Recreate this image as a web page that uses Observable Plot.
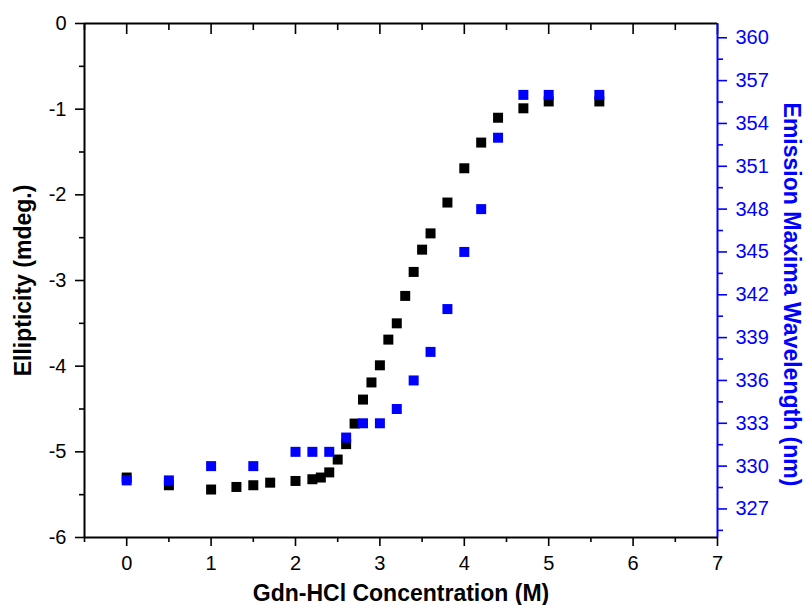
<!DOCTYPE html>
<html><head><meta charset="utf-8">
<script src="https://cdn.jsdelivr.net/npm/d3@7"></script>
<script src="https://cdn.jsdelivr.net/npm/@observablehq/plot@0.6"></script>
<style>html,body{margin:0;padding:0;background:#fff;}</style>
</head><body><div id="chart"></div>
<script>
// Circular dichroism (ellipticity, left axis)
const concCD = [0,0.5,1,1.3,1.5,1.7,2,2.2,2.3,2.4,2.5,2.6,2.7,2.8,2.9,3.0,3.1,3.2,3.3,3.4,3.5,3.6,3.8,4.0,4.2,4.4,4.7,5.0,5.6];
const ellipticity = [-5.30,-5.39,-5.44,-5.41,-5.39,-5.36,-5.34,-5.32,-5.30,-5.24,-5.09,-4.91,-4.67,-4.39,-4.19,-3.99,-3.69,-3.50,-3.18,-2.90,-2.64,-2.45,-2.09,-1.69,-1.39,-1.10,-0.99,-0.91,-0.91];
// Fluorescence emission maxima (right axis)
const concFl = [0,0.5,1,1.5,2,2.2,2.4,2.6,2.8,3.0,3.2,3.4,3.6,3.8,4.0,4.2,4.4,4.7,5.0,5.6];
const emissionMax = [329,329,330,330,331,331,331,332,333,333,334,336,338,341,345,348,353,356,356,356];
// Ticks
const xMajor = [0,1,2,3,4,5,6,7];
const xMinor = [-0.5,0.5,1.5,2.5,3.5,4.5,5.5,6.5];
const yMajor = [0,-1,-2,-3,-4,-5,-6];
const yMinor = [-0.5,-1.5,-2.5,-3.5,-4.5,-5.5];
const emMajor = [327,330,333,336,339,342,345,348,351,354,357,360];
const emMinor = [325.5,328.5,331.5,334.5,337.5,340.5,343.5,346.5,349.5,352.5,355.5,358.5];
const emDomain = [325, 361];
const yDomain = [-6, 0];
const xDomain = [-0.5, 7];
const xTitle = "Gdn-HCl Concentration (M)";
const yTitle = "Ellipticity (mdeg.)";
const y2Title = "Emission Maxima Wavelength (nm)";

const BLUE = "#0000ff";
const k = (yDomain[1]-yDomain[0])/(emDomain[1]-emDomain[0]);
const toY = v => yDomain[0] + (v - emDomain[0]) * k;
const fromY = y => Math.round(emDomain[0] + (y - yDomain[0]) / k);

const cdData = concCD.map((c,i)=>({c, v: ellipticity[i]}));
const flData = concFl.map((c,i)=>({c, v: toY(emissionMax[i])}));
const SW = 1.6;

const chart = Plot.plot({
  width: 804, height: 605,
  marginLeft: 84, marginRight: 87, marginTop: 23, marginBottom: 68,
  x: {domain: xDomain, label: null},
  y: {domain: yDomain, label: null},
  style: {fontFamily: "Arial, 'Liberation Sans', sans-serif", fontSize: "20px", background: "white", color: "black"},
  marks: [
    Plot.axisX({anchor: "bottom", ticks: xMajor, tickSize: 9, tickPadding: 9, strokeWidth: SW, tickFormat: d => String(d), label: null}),
    Plot.axisX({anchor: "bottom", ticks: xMinor, tickSize: 5, strokeWidth: SW, fill: "none", label: null}),
    Plot.axisX({anchor: "top", ticks: xMajor, tickSize: -10, strokeWidth: SW, fill: "none", label: null}),
    Plot.axisX({anchor: "top", ticks: xMinor, tickSize: -6, strokeWidth: SW, fill: "none", label: null}),
    Plot.axisY({anchor: "left", ticks: yMajor, tickSize: 9, tickPadding: 9, strokeWidth: SW, tickFormat: d => String(d), label: null}),
    Plot.axisY({anchor: "left", ticks: yMinor, tickSize: 5, strokeWidth: SW, fill: "none", label: null}),
    Plot.axisY({anchor: "right", ticks: emMajor.map(toY), tickSize: 9, tickPadding: 9, strokeWidth: SW, stroke: BLUE, fill: BLUE, tickFormat: d => String(fromY(d)), label: null}),
    Plot.axisY({anchor: "right", ticks: emMinor.map(toY), tickSize: 5, strokeWidth: SW, stroke: BLUE, fill: "none", label: null}),
    Plot.ruleY([yDomain[1]], {stroke: "black", strokeWidth: 2}),
    Plot.ruleY([yDomain[0]], {stroke: "black", strokeWidth: 2}),
    Plot.ruleX([xDomain[0]], {stroke: "black", strokeWidth: 2}),
    Plot.ruleX([xDomain[1]], {stroke: BLUE, strokeWidth: 2}),
    Plot.dot(cdData, {x: "c", y: "v", symbol: "square", r: 5.64, fill: "black", stroke: "none"}),
    Plot.dot(flData, {x: "c", y: "v", symbol: "square", r: 5.64, fill: BLUE, stroke: "none"}),
    Plot.text([xTitle], {text: d => d, frameAnchor: "bottom", textAnchor: "middle", lineAnchor: "bottom", dy: 63, fontSize: 23, fontWeight: "bold", fill: "black"}),
    Plot.text([yTitle], {text: d => d, frameAnchor: "left", textAnchor: "middle", rotate: -90, dx: -61, fontSize: 23, fontWeight: "bold", fill: "black"}),
    Plot.text([y2Title], {text: d => d, frameAnchor: "right", textAnchor: "middle", rotate: 90, dx: 74, dy: 14, fontSize: 23, fontWeight: "bold", fill: BLUE})
  ]
});
document.getElementById("chart").appendChild(chart);
</script>
</body></html>
